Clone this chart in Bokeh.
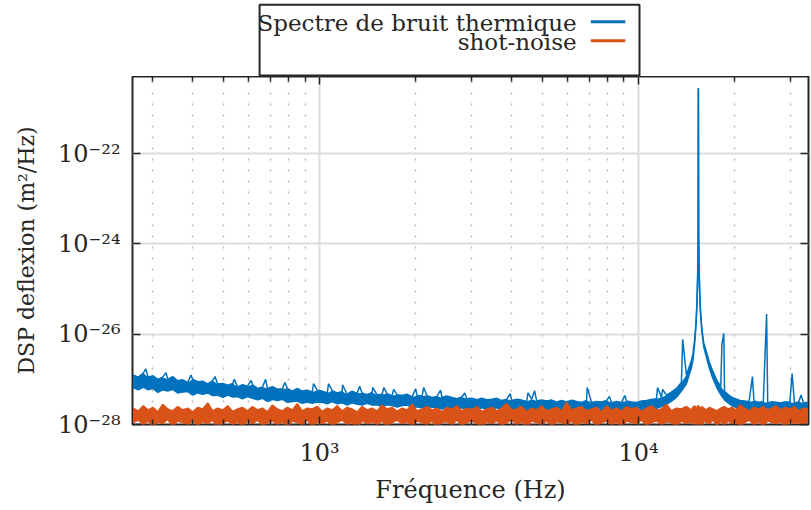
import numpy as np
from bokeh.plotting import figure
from bokeh.layouts import column
from bokeh.models import FixedTicker, LogAxis, Range1d
from bokeh.core.properties import value
from bokeh.embed import file_html
from bokeh.resources import INLINE

# ---------------- data ----------------
freq = [
    260, 270, 280, 290, 300, 311, 322, 334, 346, 359, 372, 386, 400, 415, 430, 446, 462, 479, 497, 515,
    534, 553, 573, 594, 616, 639, 662, 686, 711, 737, 764, 792, 821, 851, 882, 914, 948, 983,
    1019, 1056, 1095, 1135, 1177, 1220, 1265, 1311, 1359, 1409, 1461, 1514, 1570, 1627, 1687, 1749,
    1813, 1879, 1948, 2020, 2094, 2170, 2250, 2332, 2418, 2506, 2598, 2694, 2792, 2895,
    3001, 3111, 3225, 3343, 3466, 3593, 3725, 3861, 4003, 4150, 4302, 4460, 4623, 4793, 4969, 5151,
    5340, 5536, 5739, 5949, 6167, 6394, 6628, 6871, 7123, 7385, 7655, 7936, 8227, 8529, 8842, 9166,
    9503, 9851,
    10212, 10587, 10975, 11378, 11795, 12228, 12676, 13141, 13623, 14123, 14641, 14800, 15000, 15150,
    15250, 15320, 15370, 15400, 15430, 15480, 15550, 15650, 15800, 16000, 16300, 16700, 17100, 17600,
    18100, 18600, 19100, 19600, 20200, 20800, 21500, 22200, 23000, 23800, 24600, 25400, 26200, 27000,
    27900, 28800, 29800, 30800, 31800, 32900, 34000,
]

# thermal noise spectrum: upper and lower edge of the noisy trace
thermal_hi = [
    1.26e-27, 1.12e-27, 1.38e-27, 1.12e-27, 1.20e-27, 1.00e-27, 1.12e-27, 1.00e-27, 1.15e-27, 9.33e-28,
    9.77e-28, 8.51e-28, 1.00e-27, 8.91e-28, 9.12e-28, 7.94e-28, 9.33e-28, 7.94e-28, 8.13e-28, 7.41e-28,
    8.13e-28, 6.76e-28, 7.59e-28, 7.08e-28, 7.59e-28, 6.31e-28, 6.76e-28, 6.31e-28, 6.92e-28, 6.03e-28,
    6.17e-28, 6.31e-28, 5.50e-28, 6.31e-28, 5.50e-28, 5.75e-28, 5.25e-28, 5.75e-28,
    5.50e-28, 5.01e-28, 5.62e-28, 5.01e-28, 5.37e-28, 4.68e-28, 5.50e-28, 4.90e-28, 5.01e-28, 4.57e-28,
    5.13e-28, 4.57e-28, 4.68e-28, 4.79e-28, 4.37e-28, 4.57e-28, 4.37e-28, 4.68e-28, 4.07e-28, 4.37e-28,
    4.27e-28, 4.37e-28, 3.98e-28, 4.17e-28, 3.98e-28, 4.27e-28, 3.98e-28, 3.72e-28, 4.07e-28, 3.72e-28,
    3.80e-28, 3.55e-28, 3.80e-28, 3.55e-28, 3.63e-28, 3.80e-28, 3.39e-28, 3.63e-28, 3.39e-28, 3.63e-28,
    3.47e-28, 3.24e-28, 3.63e-28, 3.31e-28, 3.47e-28, 3.31e-28, 3.47e-28, 3.16e-28, 3.39e-28, 3.16e-28,
    3.47e-28, 3.24e-28, 3.09e-28, 3.39e-28, 3.09e-28, 3.24e-28, 3.16e-28, 3.39e-28, 3.02e-28, 3.24e-28,
    3.09e-28, 3.31e-28, 3.16e-28, 3.09e-28,
    3.30e-28, 3.40e-28, 3.60e-28, 3.70e-28, 4.00e-28, 4.40e-28, 5.20e-28, 6.30e-28, 8.50e-28, 1.25e-27,
    2.60e-27, 3.60e-27, 8.00e-27, 2.00e-26, 5.50e-26, 2.00e-25, 1.50e-24, 2.80e-21, 1.50e-24, 3.00e-25,
    8.00e-26, 3.00e-26, 1.30e-26, 6.50e-27, 4.20e-27, 2.30e-27, 1.50e-27, 9.50e-28, 7.00e-28, 5.40e-28,
    4.60e-28, 4.00e-28, 3.70e-28, 3.40e-28, 3.30e-28, 3.20e-28, 3.30e-28, 3.10e-28, 3.20e-28, 3.00e-28,
    3.20e-28, 3.10e-28, 3.00e-28, 3.20e-28, 3.10e-28, 3.00e-28, 3.20e-28, 3.00e-28, 3.10e-28,
]
thermal_lo = [
    6.61e-28, 5.89e-28, 6.76e-28, 5.89e-28, 6.31e-28, 5.13e-28, 5.89e-28, 5.50e-28, 6.03e-28, 5.01e-28,
    5.25e-28, 5.37e-28, 4.47e-28, 5.01e-28, 4.68e-28, 5.01e-28, 4.37e-28, 4.47e-28, 3.98e-28, 4.47e-28,
    4.07e-28, 4.17e-28, 3.72e-28, 4.17e-28, 3.80e-28, 3.55e-28, 3.80e-28, 3.24e-28, 3.63e-28, 3.39e-28,
    3.63e-28, 3.09e-28, 3.24e-28, 3.31e-28, 2.95e-28, 3.16e-28, 2.95e-28, 3.16e-28,
    3.09e-28, 2.88e-28, 3.24e-28, 2.88e-28, 3.02e-28, 2.69e-28, 3.02e-28, 2.82e-28, 2.69e-28, 2.95e-28,
    2.69e-28, 2.75e-28, 2.51e-28, 2.75e-28, 2.63e-28, 2.45e-28, 2.63e-28, 2.69e-28, 2.45e-28, 2.45e-28,
    2.34e-28, 2.51e-28, 2.40e-28, 2.40e-28, 2.19e-28, 2.45e-28, 2.24e-28, 2.29e-28, 2.34e-28, 2.09e-28,
    2.34e-28, 2.19e-28, 2.34e-28, 2.19e-28, 2.24e-28, 2.34e-28, 2.14e-28, 2.24e-28, 2.04e-28, 2.24e-28,
    2.14e-28, 2.04e-28, 2.14e-28, 2.00e-28, 2.19e-28, 2.04e-28, 2.19e-28, 2.00e-28, 2.09e-28, 1.91e-28,
    2.09e-28, 2.00e-28, 1.95e-28, 2.04e-28, 1.86e-28, 2.04e-28, 1.95e-28, 2.00e-28, 1.91e-28, 2.04e-28,
    1.86e-28, 2.00e-28, 1.95e-28, 1.91e-28,
    2.00e-28, 2.05e-28, 2.20e-28, 2.30e-28, 2.50e-28, 2.80e-28, 3.30e-28, 4.00e-28, 5.50e-28, 8.00e-28,
    1.80e-27, 2.60e-27, 6.50e-27, 1.70e-26, 5.00e-26, 1.80e-25, 1.40e-24, 2.80e-21, 1.40e-24, 2.70e-25,
    7.00e-26, 2.60e-26, 1.10e-26, 5.30e-27, 3.20e-27, 1.70e-27, 1.05e-27, 6.50e-28, 4.60e-28, 3.50e-28,
    3.00e-28, 2.60e-28, 2.40e-28, 2.20e-28, 2.10e-28, 2.00e-28, 2.05e-28, 1.95e-28, 2.00e-28, 1.90e-28,
    2.00e-28, 1.90e-28, 1.95e-28, 1.90e-28, 2.00e-28, 1.90e-28, 1.95e-28, 1.90e-28, 2.00e-28,
]

# narrow lines sticking out of the thermal spectrum
spike_freq = [285, 330, 395, 470, 540, 610, 677, 778, 957, 1067, 1180, 1335, 1466, 1590, 1706, 2000,
              2120, 2394, 2850, 3960, 4500, 4720, 6900, 8100, 9050, 11470, 11900, 13750, 18250, 18500,
              22750, 25200, 30300, 32300]
spike_psd = [1.7e-27, 1.4e-27, 1.25e-27, 1.15e-27, 1.0e-27, 9.5e-28, 1.0e-27, 8.5e-28, 8.0e-28, 8.0e-28,
             7.6e-28, 7.0e-28, 6.6e-28, 6.6e-28, 6.0e-28, 6.2e-28, 6.6e-28, 5.8e-28, 5.0e-28, 4.8e-28,
             5.0e-28, 5.6e-28, 6.6e-28, 4.2e-28, 4.4e-28, 6.6e-28, 6.0e-28, 7.7e-27, 6.0e-27, 1.05e-26,
             1.15e-27, 2.8e-26, 1.35e-27, 4.5e-28]

# shot-noise: upper and lower edge of the noisy trace
shot_hi = [
    2.3e-28, 2.0e-28, 2.6e-28, 2.1e-28, 2.4e-28, 1.9e-28, 2.8e-28, 2.2e-28, 2.0e-28, 2.5e-28, 2.1e-28, 2.3e-28,
    1.9e-28, 2.4e-28, 2.2e-28, 3.0e-28, 2.0e-28, 2.3e-28, 2.1e-28, 2.6e-28, 1.95e-28, 2.2e-28, 2.4e-28, 2.0e-28,
    2.5e-28, 2.1e-28, 2.3e-28, 1.9e-28, 2.7e-28, 2.2e-28, 2.0e-28, 2.4e-28, 2.1e-28, 2.9e-28, 2.0e-28, 2.3e-28,
    2.2e-28, 2.5e-28, 1.95e-28, 2.3e-28, 2.1e-28, 2.6e-28, 2.0e-28, 2.4e-28, 2.2e-28, 1.9e-28, 2.5e-28, 2.1e-28,
    2.3e-28, 2.0e-28, 2.7e-28, 2.2e-28, 2.4e-28, 1.95e-28, 2.3e-28, 2.1e-28, 2.8e-28, 2.0e-28, 2.2e-28, 2.5e-28,
    2.1e-28, 2.3e-28, 1.9e-28, 2.4e-28, 2.2e-28, 2.6e-28, 2.0e-28, 2.3e-28, 2.1e-28, 2.5e-28, 1.95e-28, 2.2e-28,
    2.4e-28, 2.0e-28, 2.3e-28, 2.9e-28, 2.1e-28, 2.2e-28, 2.5e-28, 1.9e-28, 2.3e-28, 2.1e-28, 2.6e-28, 2.0e-28,
    2.2e-28, 2.4e-28, 2.0e-28, 3.1e-28, 2.1e-28, 2.3e-28, 2.5e-28, 2.0e-28, 2.2e-28, 2.4e-28, 1.9e-28, 2.6e-28,
    2.1e-28, 2.3e-28, 2.0e-28, 2.5e-28, 2.2e-28, 2.4e-28, 1.95e-28, 2.3e-28, 2.6e-28, 2.1e-28, 2.2e-28, 2.8e-28,
    2.0e-28, 2.3e-28, 2.2e-28, 2.5e-28, 2.1e-28, 2.4e-28, 2.6e-28, 2.3e-28, 2.2e-28, 2.7e-28, 2.1e-28, 2.4e-28,
    2.3e-28, 2.6e-28, 2.4e-28, 2.2e-28, 2.5e-28, 2.3e-28, 2.1e-28, 2.4e-28, 2.2e-28, 2.0e-28, 2.3e-28, 2.5e-28,
    2.2e-28, 2.4e-28, 2.1e-28, 2.7e-28, 2.3e-28, 2.0e-28, 2.4e-28, 2.2e-28, 2.5e-28, 2.1e-28, 2.3e-28, 2.6e-28,
    2.1e-28, 2.4e-28, 2.2e-28, 2.5e-28, 2.0e-28, 2.3e-28, 2.2e-28,
]
shot_lo = [
    1.1e-28, 1.25e-28, 1.0e-28, 1.2e-28, 0.85e-28, 1.15e-28, 1.05e-28, 1.3e-28, 0.9e-28, 1.2e-28, 1.1e-28, 1.0e-28,
    1.2e-28, 0.95e-28, 1.15e-28, 1.05e-28, 1.25e-28, 0.8e-28, 1.1e-28, 1.2e-28, 1.0e-28, 1.15e-28, 0.9e-28, 1.2e-28,
    1.05e-28, 1.25e-28, 0.95e-28, 1.1e-28, 1.2e-28, 1.0e-28, 1.15e-28, 0.85e-28, 1.2e-28, 1.1e-28, 1.0e-28, 1.25e-28,
    0.9e-28, 1.15e-28, 1.05e-28, 1.2e-28, 0.95e-28, 1.1e-28, 1.25e-28, 1.0e-28, 1.15e-28, 0.8e-28, 1.2e-28, 1.05e-28,
    1.15e-28, 1.0e-28, 1.2e-28, 0.9e-28, 1.1e-28, 1.25e-28, 1.05e-28, 1.15e-28, 0.95e-28, 1.2e-28, 1.1e-28, 1.0e-28,
    1.2e-28, 0.85e-28, 1.1e-28, 1.15e-28, 1.0e-28, 1.25e-28, 0.95e-28, 1.1e-28, 1.2e-28, 1.05e-28, 0.9e-28, 1.15e-28,
    1.05e-28, 1.2e-28, 0.95e-28, 1.1e-28, 1.25e-28, 1.0e-28, 1.15e-28, 0.85e-28, 1.2e-28, 1.1e-28, 1.0e-28, 1.2e-28,
    0.95e-28, 1.15e-28, 1.1e-28, 1.0e-28, 1.2e-28, 0.9e-28, 1.15e-28, 1.05e-28, 1.25e-28, 0.95e-28, 1.1e-28, 1.2e-28,
    1.0e-28, 1.15e-28, 0.85e-28, 1.2e-28, 1.1e-28, 1.05e-28, 1.25e-28, 0.95e-28, 1.1e-28, 1.2e-28, 1.0e-28, 1.15e-28,
    1.1e-28, 0.9e-28, 1.2e-28, 1.05e-28, 1.15e-28, 1.0e-28, 1.25e-28, 0.95e-28, 1.1e-28, 1.2e-28, 0.85e-28, 1.15e-28,
    1.05e-28, 1.2e-28, 1.0e-28, 1.15e-28, 0.9e-28, 1.2e-28, 1.1e-28, 1.05e-28, 1.25e-28, 0.95e-28, 1.15e-28, 1.0e-28,
    1.2e-28, 1.05e-28, 1.15e-28, 0.9e-28, 1.1e-28, 1.25e-28, 1.0e-28, 1.15e-28, 0.95e-28, 1.2e-28, 1.1e-28, 1.05e-28,
    1.15e-28, 0.9e-28, 1.2e-28, 1.05e-28, 1.1e-28, 1.0e-28, 1.2e-28,
]

x_major = [1e3, 1e4]
x_minor = [300, 400, 500, 600, 700, 800, 900, 2000, 3000, 4000, 5000, 6000, 7000, 8000, 9000, 20000, 30000]
y_major = [1e-28, 1e-26, 1e-24, 1e-22]
x_labels = {1e3: "10³", 1e4: "10⁴"}
y_labels = {1e-28: "10⁻²⁸", 1e-26: "10⁻²⁶", 1e-24: "10⁻²⁴", 1e-22: "10⁻²²"}
series_names = ["Spectre de bruit thermique", "shot-noise"]
x_title = "Fréquence (Hz)"
y_title = "DSP deflexion (m²/Hz)"

# ---------------- styling ----------------
BLUE = "#0072BD"
ORANGE = "#D95319"
INK = "#262626"
FONT = "DejaVu Serif"

# upper edge of the thermal trace including the narrow lines
bf = np.concatenate([np.array(freq, float), np.array(spike_freq, float)])
bv = np.concatenate([np.array(thermal_hi, float), np.array(spike_psd, float)])
order = np.argsort(bf)
bf, bv = bf[order], bv[order]

# ---------------- legend strip above the axes (frame aligned with the axes) ----------------
leg = figure(width=811, height=76, x_range=Range1d(0, 1), y_range=Range1d(0, 1),
             x_axis_location=None, y_axis_location=None,
             output_backend="svg", toolbar_location=None,
             min_border_left=132, min_border_right=3, min_border_top=0, min_border_bottom=0)
leg.grid.visible = False
leg.outline_line_color = None
leg.background_fill_color = "white"
leg.border_fill_color = "white"
leg.quad(left=[0.188], right=[0.750], bottom=[0.012], top=[0.945],
         fill_color="white", line_color=INK, line_width=2)
leg.text(x=[0.657, 0.657], y=[0.70, 0.455], text=series_names,
         text_font=value(FONT), text_font_size="23px", text_color=INK,
         text_align="right", text_baseline="alphabetic")
leg.segment(x0=[0.678, 0.678], y0=[0.72, 0.47], x1=[0.729, 0.729], y1=[0.72, 0.47],
            line_color=[BLUE, ORANGE], line_width=3)

# ---------------- main axes ----------------
p = figure(width=811, height=434, x_axis_type="log", y_axis_type="log",
           x_range=Range1d(259, 34100), y_range=Range1d(1e-28, 10 ** -20.29),
           output_backend="svg", toolbar_location=None,
           min_border_left=132, min_border_right=3, min_border_top=0, min_border_bottom=86)
p.background_fill_color = "white"
p.border_fill_color = "white"
p.outline_line_color = INK
p.outline_line_width = 2

p.varea(x=freq, y1=thermal_lo, y2=thermal_hi, fill_color=BLUE)
p.line(bf, bv, line_color=BLUE, line_width=1.5)
p.line(freq, thermal_lo, line_color=BLUE, line_width=1.5)
p.varea(x=freq, y1=shot_lo, y2=shot_hi, fill_color=ORANGE)
p.line(freq, shot_hi, line_color=ORANGE, line_width=1.5)
p.line(freq, shot_lo, line_color=ORANGE, line_width=1.5)

p.xaxis.ticker = FixedTicker(ticks=x_major, minor_ticks=x_minor)
p.xaxis.major_label_overrides = x_labels
p.yaxis.ticker = FixedTicker(ticks=y_major, minor_ticks=[])
p.yaxis.major_label_overrides = y_labels

for ax in list(p.xaxis) + list(p.yaxis):
    ax.axis_line_color = None
    ax.major_tick_in = 8
    ax.major_tick_out = 0
    ax.minor_tick_in = 5
    ax.minor_tick_out = 0
    ax.major_tick_line_color = INK
    ax.minor_tick_line_color = INK
    ax.major_tick_line_width = 1.5
    ax.minor_tick_line_width = 1.5
    ax.major_label_text_font = FONT
    ax.major_label_text_font_size = "24px"
    ax.major_label_text_color = INK
    ax.axis_label_text_font = FONT
    ax.axis_label_text_color = INK
    ax.axis_label_text_font_style = "normal"

p.xaxis.axis_label = x_title
p.yaxis.axis_label = y_title
p.xaxis.axis_label_text_font_size = "24px"
p.yaxis.axis_label_text_font_size = "22px"
p.xaxis.major_label_standoff = 14
p.yaxis.major_label_standoff = 12
p.xaxis.axis_label_standoff = 6
p.yaxis.axis_label_standoff = 16

top_ax = LogAxis(ticker=FixedTicker(ticks=x_major, minor_ticks=x_minor),
                 major_label_overrides={1e3: "", 1e4: ""}, major_label_standoff=0,
                 major_label_text_font_size="1px",
                 axis_line_color=None, major_tick_in=8, major_tick_out=0,
                 minor_tick_in=5, minor_tick_out=0,
                 major_tick_line_color=INK, minor_tick_line_color=INK,
                 major_tick_line_width=1.5, minor_tick_line_width=1.5)
right_ax = LogAxis(ticker=FixedTicker(ticks=y_major, minor_ticks=[]),
                   major_label_overrides={1e-28: "", 1e-26: "", 1e-24: "", 1e-22: ""},
                   major_label_standoff=0, major_label_text_font_size="1px",
                   axis_line_color=None, major_tick_in=8, major_tick_out=0,
                   major_tick_line_color=INK, major_tick_line_width=1.5)
p.add_layout(top_ax, "above")
p.add_layout(right_ax, "right")

p.xgrid.ticker = FixedTicker(ticks=x_major, minor_ticks=x_minor)
p.ygrid.ticker = FixedTicker(ticks=y_major, minor_ticks=[])
p.xgrid.grid_line_color = "#dcdcdc"
p.xgrid.grid_line_width = 2
p.ygrid.grid_line_color = "#dcdcdc"
p.ygrid.grid_line_width = 2
p.xgrid.minor_grid_line_color = "#b8b8b8"
p.xgrid.minor_grid_line_width = 1.5
p.xgrid.minor_grid_line_dash = "2 9"

layout = column(leg, p, spacing=0)
open("out.html", "w").write(file_html(layout, INLINE))
